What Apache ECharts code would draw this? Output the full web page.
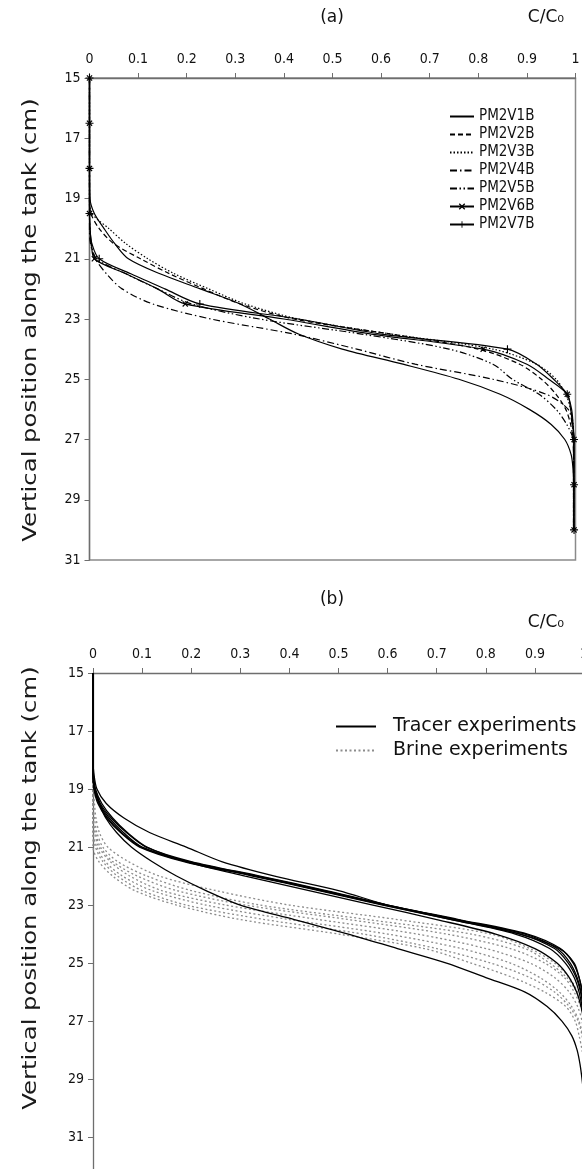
<!DOCTYPE html>
<html><head><meta charset="utf-8">
<script src="https://cdn.jsdelivr.net/npm/echarts@6/dist/echarts.min.js"></script>
<style>html,body{margin:0;padding:0;background:#fff}#c{width:582px;height:1169px}</style>
</head><body><div id="c"></div>
<script>
// ---------- tick labels ----------
const xTicks = [0,0.1,0.2,0.3,0.4,0.5,0.6,0.7,0.8,0.9,1];
const xTickLabels = ['0','0.1','0.2','0.3','0.4','0.5','0.6','0.7','0.8','0.9','1'];
const yTicks = [15,17,19,21,23,25,27,29,31];

// ---------- panel (a): vertical positions (cm) and C/C0 values ----------
const yA = [15,16.5,18,19,19.5,20,20.5,21,21.5,22,22.5,23,23.5,24,24.5,25,25.5,26,26.5,27,27.5,28,28.5,29,30];
const PM2V1B = [0,0,0,0.001,0.01,0.03,0.052,0.08,0.145,0.228,0.31,0.37,0.43,0.52,0.645,0.76,0.845,0.905,0.95,0.978,0.991,0.995,0.996,0.996,0.996];
const PM2V2B = [0,0,0,0,0.003,0.02,0.05,0.105,0.165,0.235,0.31,0.42,0.62,0.8,0.885,0.93,0.96,0.98,0.99,0.995,0.996,0.996,0.996,0.996,0.996];
const PM2V3B = [0,0,0,0,0.005,0.04,0.075,0.12,0.175,0.245,0.32,0.43,0.62,0.83,0.92,0.96,0.98,0.99,0.995,0.996,0.996,0.996,0.996,0.996,0.996];
const PM2V4B = [0,0,0,0,0,0,0.002,0.012,0.035,0.067,0.13,0.25,0.42,0.55,0.67,0.83,0.94,0.985,0.993,0.995,0.996,0.996,0.996,0.996,0.996];
const PM2V5B = [0,0,0,0,0,0.001,0.003,0.015,0.075,0.14,0.21,0.35,0.56,0.74,0.83,0.87,0.925,0.96,0.982,0.995,0.996,0.996,0.996,0.996,0.996];
const PM2V6B = [0,0,0,0,0,0.001,0.004,0.01,0.075,0.14,0.197,0.4,0.58,0.81,0.9,0.945,0.983,0.99,0.994,0.997,0.997,0.997,0.997,0.997,0.997];
const PM2V7B = [0,0,0,0,0,0.001,0.005,0.02,0.085,0.155,0.227,0.43,0.6,0.86,0.92,0.955,0.983,0.992,0.995,0.997,0.997,0.997,0.997,0.997,0.997];
const markerYA = [15,16.5,18,19.5,21,22.5,24,25.5,27,28.5,30];
const namesA = ['PM2V1B','PM2V2B','PM2V3B','PM2V4B','PM2V5B','PM2V6B','PM2V7B'];
const valuesA = [PM2V1B,PM2V2B,PM2V3B,PM2V4B,PM2V5B,PM2V6B,PM2V7B];

// ---------- panel (b) ----------
const yB = [15,18,18.5,19,19.5,20,20.5,21,21.5,22,22.5,23,23.5,24,24.5,25,25.5,26,26.5,27,27.5,28,28.5,29,29.5,30];
const tracer1 = [0,0,0.002,0.008,0.027,0.063,0.115,0.19,0.262,0.37,0.5,0.6,0.74,0.87,0.95,0.98,0.99,0.997,1,1,1,1,1,1,1,1];
const tracer2 = [0,0,0,0.003,0.013,0.033,0.062,0.1,0.195,0.335,0.47,0.6,0.74,0.88,0.945,0.972,0.986,0.994,0.998,1,1,1,1,1,1,1];
const tracer3 = [0,0,0,0.002,0.01,0.028,0.056,0.095,0.185,0.325,0.46,0.59,0.73,0.87,0.94,0.968,0.984,0.993,0.998,1,1,1,1,1,1,1];
const tracer4 = [0,0,0,0.004,0.015,0.037,0.068,0.108,0.2,0.34,0.475,0.6,0.745,0.885,0.952,0.978,0.99,0.996,1,1,1,1,1,1,1,1];
const tracer5 = [0,0,0,0.003,0.012,0.03,0.058,0.098,0.19,0.33,0.465,0.595,0.73,0.86,0.93,0.962,0.98,0.99,0.996,1,1,1,1,1,1,1];
const tracer6 = [0,0,0.001,0.005,0.018,0.04,0.07,0.11,0.19,0.31,0.44,0.57,0.7,0.82,0.9,0.945,0.97,0.985,0.994,0.999,1,1,1,1,1,1];
const tracer7 = [0,0,0,0.004,0.013,0.026,0.048,0.078,0.12,0.17,0.23,0.3,0.41,0.52,0.62,0.72,0.8,0.88,0.925,0.955,0.975,0.986,0.992,0.996,0.999,1];
const brine1 = [0,0,0,0.001,0.003,0.006,0.013,0.03,0.072,0.135,0.25,0.4,0.62,0.81,0.89,0.94,0.97,0.987,0.996,1,1,1,1,1,1,1];
const brine2 = [0,0,0,0,0,0.003,0.008,0.02,0.05,0.11,0.2,0.34,0.56,0.77,0.88,0.93,0.965,0.985,0.995,1,1,1,1,1,1,1];
const brine3 = [0,0,0,0,0,0,0.005,0.015,0.04,0.09,0.17,0.31,0.52,0.72,0.85,0.92,0.96,0.98,0.993,0.999,1,1,1,1,1,1];
const brine4 = [0,0,0,0,0,0,0.003,0.012,0.035,0.075,0.14,0.27,0.46,0.66,0.8,0.89,0.94,0.97,0.987,0.996,1,1,1,1,1,1];
const brine5 = [0,0,0,0,0,0,0,0.008,0.025,0.06,0.12,0.23,0.4,0.6,0.75,0.85,0.91,0.95,0.975,0.99,0.997,1,1,1,1,1];
const brine6 = [0,0,0,0,0,0,0,0.005,0.02,0.05,0.1,0.19,0.35,0.55,0.7,0.81,0.89,0.94,0.97,0.988,0.996,1,1,1,1,1];
const brine7 = [0,0,0,0,0,0,0,0,0.012,0.04,0.085,0.17,0.3,0.5,0.675,0.77,0.855,0.92,0.963,0.982,0.99,0.996,1,1,1,1];
const tracerRuns = [tracer1,tracer2,tracer3,tracer4,tracer5,tracer6,tracer7];
const brineRuns = [brine1,brine2,brine3,brine4,brine5,brine6,brine7];

// ---------- styles ----------
const NARROW = '"Liberation Sans Narrow","DejaVu Sans Condensed","Liberation Sans",sans-serif';
const VERD = '"DejaVu Sans",Verdana,sans-serif';
const xPath = 'path://M0,1.4L1.4,0L5,3.6L8.6,0L10,1.4L6.4,5L10,8.6L8.6,10L5,6.4L1.4,10L0,8.6L3.6,5Z';
const plusPath = 'path://M4.3,0H5.7V4.3H10V5.7H5.7V10H4.3V5.7H0V4.3H4.3Z';
const dashA = ['solid',[5,3],[1.5,2],[7,3,1.5,3],[7,2.5,1.5,2.5,1.5,2.5],'solid','solid'];
const symA = ['none','none','none','none','none',xPath,plusPath];

const chart = echarts.init(document.getElementById('c'), null, {renderer:'canvas'});

function toPts(ys, cs, marks) {
  return cs.map((c,i) => {
    if (!marks) return [c, ys[i]];
    return marks.indexOf(ys[i]) >= 0 ? [c, ys[i]] : {value:[c, ys[i]], symbol:'none'};
  });
}

const series = [];
namesA.forEach((n,k) => {
  const hasSym = symA[k] !== 'none';
  series.push({
    type:'line', name:n, xAxisIndex:0, yAxisIndex:0,
    data: toPts(yA, valuesA[k], hasSym ? markerYA : null),
    smooth:0.3, symbol:symA[k], symbolSize: k===5 ? 6 : 8, showSymbol:hasSym,
    color:'#000', itemStyle:{color:'#000'},
    lineStyle:{color:'#000', width:1.2, type:dashA[k]},
    emphasis:{disabled:true}, silent:true, animation:false
  });
});
brineRuns.forEach(r => series.push({
  type:'line', name:'Brine experiments', xAxisIndex:1, yAxisIndex:1,
  data: toPts(yB, r), smooth:0.3, symbol:'none', showSymbol:false,
  color:'#8c8c8c', lineStyle:{color:'#8c8c8c', width:1.3, type:[2,2.5]},
  emphasis:{disabled:true}, silent:true, animation:false
}));
tracerRuns.forEach(r => series.push({
  type:'line', name:'Tracer experiments', xAxisIndex:1, yAxisIndex:1,
  data: toPts(yB, r), smooth:0.3, symbol:'none', showSymbol:false,
  color:'#000', lineStyle:{color:'#000', width:1.3, type:'solid'},
  emphasis:{disabled:true}, silent:true, animation:false
}));

function xAxisCfg(gi) {
  return {
    type:'value', gridIndex:gi, position:'top', min:0, max:1, interval:0.1,
    axisLine:{show:true, onZero:false, lineStyle:{color:'#6e6e6e', width:1.3}},
    axisTick:{show:true, inside:false, length:5, lineStyle:{color:'#6e6e6e', width:1}},
    axisLabel:{show:true, margin:12, color:'#111', fontSize:14, fontFamily:NARROW, hideOverlap:false,
      formatter: v => xTickLabels[xTicks.indexOf(Math.round(v*10)/10)]},
    splitLine:{show:false}
  };
}
function yAxisCfg(gi, max) {
  return {
    type:'value', gridIndex:gi, inverse:true, min:15, max:max,
    axisLine:{show:true, onZero:false, lineStyle:{color:'#6e6e6e', width:1.3}},
    axisTick:{show:true, inside:false, length:5, customValues:yTicks, lineStyle:{color:'#6e6e6e', width:1}},
    axisLabel:{show:true, margin:9, color:'#111', fontSize:14, fontFamily:NARROW, customValues:yTicks},
    splitLine:{show:false}
  };
}

const legendA = namesA.map((n,k) => symA[k] === 'none' ? {name:n, itemStyle:{opacity:0}} : {name:n});

chart.setOption({
  animation:false,
  backgroundColor:'#fff',
  grid:[
    {left:89.5, top:78, width:486, height:482, show:true, borderColor:'#8a8a8a', borderWidth:1.5, backgroundColor:'transparent', containLabel:false, outerBoundsMode:'none'},
    {left:93, top:673, width:491, height:496, show:false, containLabel:false, outerBoundsMode:'none'}
  ],
  xAxis:[xAxisCfg(0), xAxisCfg(1)],
  yAxis:[yAxisCfg(0,31), yAxisCfg(1,32.1)],
  legend:[
    {data:legendA, orient:'vertical', left:444, top:104, itemWidth:24, itemHeight:8, itemGap:3,
     selectedMode:false, textStyle:{color:'#111', fontSize:15, fontFamily:NARROW}},
    {data:[{name:'Tracer experiments', itemStyle:{opacity:0}},{name:'Brine experiments', itemStyle:{opacity:0}}],
     orient:'vertical', left:330, top:712, itemWidth:40, itemHeight:8, itemGap:5,
     selectedMode:false, formatter: n => '  ' + n,
     textStyle:{color:'#111', fontSize:19, fontFamily:VERD}}
  ],
  graphic:[
    {type:'text', x:332, y:18, style:{text:'(a)', font:'17px "DejaVu Sans"', fill:'#111', textAlign:'center', textVerticalAlign:'middle', align:'center', verticalAlign:'middle'}},
    {type:'text', x:546, y:18, style:{text:'C/C₀', font:'17px "DejaVu Sans"', fill:'#111', textAlign:'center', textVerticalAlign:'middle', align:'center', verticalAlign:'middle'}},
    {type:'text', x:332, y:600, style:{text:'(b)', font:'17px "DejaVu Sans"', fill:'#111', textAlign:'center', textVerticalAlign:'middle', align:'center', verticalAlign:'middle'}},
    {type:'text', x:546, y:623, style:{text:'C/C₀', font:'17px "DejaVu Sans"', fill:'#111', textAlign:'center', textVerticalAlign:'middle', align:'center', verticalAlign:'middle'}},
    {type:'text', x:31, y:320, rotation:Math.PI/2, scaleX:1.28, style:{text:'Vertical position along the tank (cm)', font:'19px "DejaVu Sans"', fill:'#1a1a1a', textAlign:'center', textVerticalAlign:'middle', align:'center', verticalAlign:'middle'}},
    {type:'text', x:31, y:888, rotation:Math.PI/2, scaleX:1.28, style:{text:'Vertical position along the tank (cm)', font:'19px "DejaVu Sans"', fill:'#1a1a1a', textAlign:'center', textVerticalAlign:'middle', align:'center', verticalAlign:'middle'}}
  ],
  series: series
});
</script>
</body></html>
